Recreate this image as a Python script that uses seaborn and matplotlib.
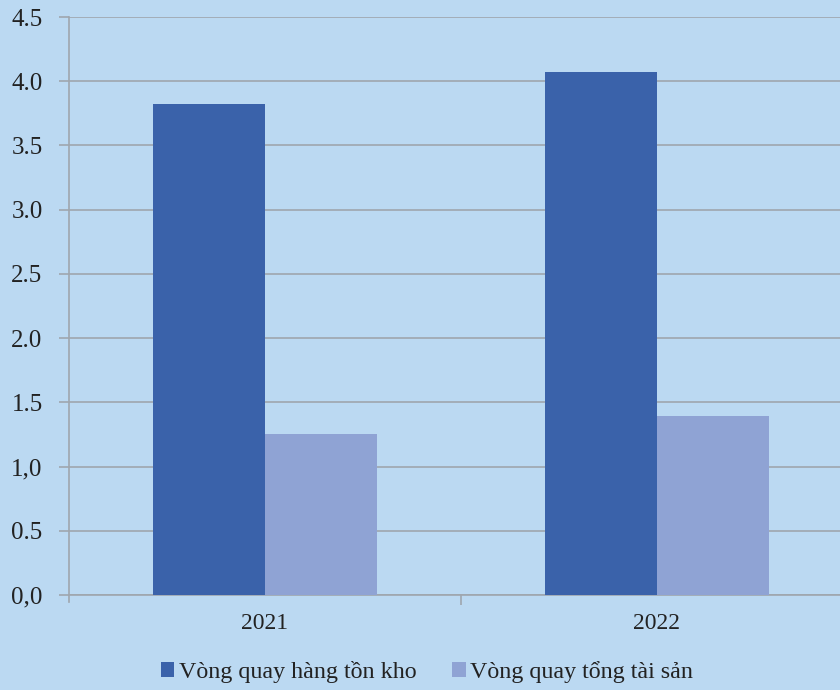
import matplotlib
matplotlib.use("Agg")
from matplotlib import pyplot as plt
from matplotlib.patches import Patch
import numpy as np
import pandas as pd
import seaborn as sns

years = ["2021", "2022"]
series = ["Vòng quay hàng tồn kho", "Vòng quay tổng tài sản"]
inventory_turnover = [3.82, 4.07]
asset_turnover = [1.25, 1.39]
y_ticks = [0.0, 0.5, 1.0, 1.5, 2.0, 2.5, 3.0, 3.5, 4.0, 4.5]
y_tick_labels = ["0,0", "0.5", "1,0", "1.5", "2.0", "2.5", "3.0", "3.5", "4.0", "4.5"]

colours = ["#3A62AA", "#8FA3D4"]
bg = "#BBD9F2"
grid_col = "#9FA6AE"

df = pd.DataFrame({
    "year": years * 2,
    "series": [series[0]] * 2 + [series[1]] * 2,
    "value": inventory_turnover + asset_turnover,
})

sns.set_style("white")
plt.rcParams["font.family"] = ["Liberation Serif", "DejaVu Serif"]

fig = plt.figure(figsize=(8.4, 6.9), dpi=100, facecolor=bg)
ax = fig.add_axes([69 / 840, 95 / 690, 784 / 840, 578 / 690])
ax.set_facecolor(bg)

sns.barplot(data=df, x="year", y="value", hue="series", palette=colours,
            width=0.571, saturation=1, linewidth=0, ax=ax, legend=False, zorder=3)

ax.set_xlim(-0.5, 1.5)
ax.set_ylim(0, 4.5)
ax.set_yticks(y_ticks)
ax.set_yticklabels(y_tick_labels)
ax.yaxis.grid(True, color=grid_col, linewidth=1.2, zorder=0)
ax.set_axisbelow(True)
ax.set_xlabel("")
ax.set_ylabel("")

for s in ["top", "right"]:
    ax.spines[s].set_visible(False)
for s in ["left", "bottom"]:
    ax.spines[s].set_color(grid_col)
    ax.spines[s].set_linewidth(1.2)
ax.spines["left"].set_bounds(-0.055, 4.5)

ax.tick_params(axis="y", length=7, color=grid_col, width=1.2, labelsize=18,
               labelcolor="#222222", pad=12, left=True)
ax.tick_params(axis="x", length=0, labelsize=17, labelcolor="#222222", pad=13)
ax.set_xticks([0.5], minor=True)
ax.tick_params(axis="x", which="minor", length=7, color=grid_col, width=1.2, bottom=True)

handles = [Patch(facecolor=c, edgecolor="none") for c in colours]
fig.legend(handles, series, loc="center", bbox_to_anchor=(427 / 840, 18 / 690),
           ncol=2, frameon=False, fontsize=17.3, handlelength=0.55, handleheight=0.55,
           handletextpad=0.2, columnspacing=1.5, labelcolor="#222222")

fig.savefig("out.png", dpi=100, facecolor=bg)
